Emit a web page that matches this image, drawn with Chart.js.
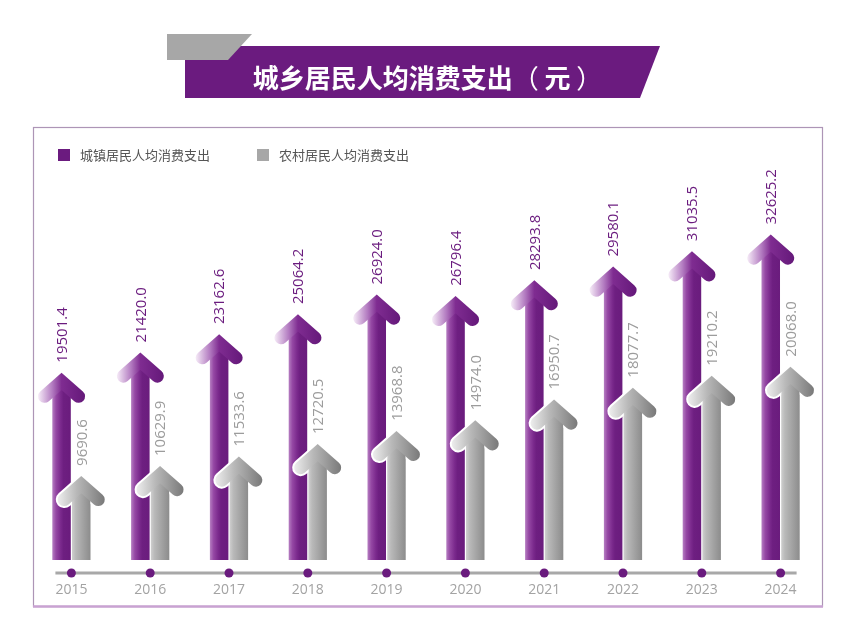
<!DOCTYPE html>
<html>
<head>
<meta charset="utf-8">
<script src="https://cdn.jsdelivr.net/npm/chart.js@4.4.1/dist/chart.umd.min.js"></script>
<style>
  body { margin: 0; background: #fff; }
  #wrap { position: relative; width: 850px; height: 640px; overflow: hidden; font-family: "Noto Sans CJK SC", sans-serif; }
  #chart { position: absolute; left: 0; top: 0; }
  .band-purple { position: absolute; left: 185px; top: 46px; width: 475px; height: 52px; background: #6b1b7f;
    clip-path: polygon(0 0, 100% 0, 455px 100%, 0 100%); }
  .band-gray { position: absolute; left: 167px; top: 34px; width: 85px; height: 26px; background: #a7a7a7;
    clip-path: polygon(0 0, 100% 0, 61px 100%, 0 100%); }
  .title { position: absolute; left: 190px; top: 51px; width: 475px; height: 52px; line-height: 52px; text-align: center;
    color: #fff; font-weight: bold; font-size: 26px; white-space: pre; }
  .title .p { font-weight: normal; }
  .legend { position: absolute; top: 146px; height: 18px; line-height: 18px; font-size: 13px; color: #555; }
  .legend i { position: absolute; left: 0; top: 3px; width: 12px; height: 12px; }
  .legend span { position: absolute; left: 22px; top: 0; white-space: nowrap; }
</style>
</head>
<body>
<div id="wrap">
  <canvas id="chart" width="850" height="640"></canvas>
  <div class="band-purple"></div>
  <div class="band-gray"></div>
  <div class="title">城乡居民人均消费支出<span class="p">（ </span>元<span class="p"> ）</span></div>
  <div class="legend" style="left:58px"><i style="background:#6b1b7f"></i><span>城镇居民人均消费支出</span></div>
  <div class="legend" style="left:257px"><i style="background:#a7a7a7"></i><span>农村居民人均消费支出</span></div>
</div>
<script>
// 城乡居民人均消费支出 2015-2024
const years = ['2015', '2016', '2017', '2018', '2019', '2020', '2021', '2022', '2023', '2024'];
const urbanSpend = [19501.4, 21420.0, 23162.6, 25064.2, 26924.0, 26796.4, 28293.8, 29580.1, 31035.5, 32625.2];
const ruralSpend = [9690.6, 10629.9, 11533.6, 12720.5, 13968.8, 14974.0, 16950.7, 18077.7, 19210.2, 20068.0];

const CAT_PCT = 0.5;
const BAR_PCT = 0.94;

const purpleShaft = [[0, '#b67fc2'], [0.2, '#9548a4'], [0.45, '#7b2a8d'], [0.6, '#6e1f81'], [1, '#6a1c7d']];
const grayShaft = [[0, '#cfcfcf'], [0.2, '#b9b9b9'], [0.6, '#a2a2a2'], [1, '#8c8c8c']];
const purpleHead = [[0, '#f4e8f6'], [0.3, '#b27ac0'], [0.5, '#7f2c91'], [1, '#65197a']];
const grayHead = [[0, '#ececec'], [0.4, '#b8b8b8'], [0.7, '#9a9a9a'], [1, '#7a7a7a']];

function hGrad(ctx, x0, x1, stops) {
  const g = ctx.createLinearGradient(x0, 0, x1, 0);
  stops.forEach(s => g.addColorStop(s[0], s[1]));
  return g;
}

// gradient fill of a shaft, position taken from the x scale
function shaftFill(context, stops, fallback) {
  const chart = context.chart;
  if (!chart.chartArea || context.dataIndex === undefined) return fallback;
  const xs = chart.scales.x;
  const center = xs.getPixelForValue(context.dataIndex);
  const slot = xs.width / years.length * CAT_PCT / 2;
  const cx = center + (context.datasetIndex === 0 ? -slot / 2 : slot / 2);
  const w = slot * BAR_PCT;
  return hGrad(chart.ctx, cx - w / 2, cx + w / 2, stops);
}

function chevron(ctx, cx, tip, lw, style) {
  const v = tip + 8.7;
  ctx.beginPath();
  ctx.moveTo(cx - 17, v + 15);
  ctx.lineTo(cx, v);
  ctx.lineTo(cx + 17, v + 15);
  ctx.lineWidth = lw;
  ctx.lineCap = 'round';
  ctx.lineJoin = 'miter';
  ctx.strokeStyle = style;
  ctx.stroke();
}

// frame + background
const framePlugin = {
  id: 'frame',
  beforeDraw(chart) {
    const ctx = chart.ctx;
    ctx.save();
    ctx.fillStyle = '#fff';
    ctx.fillRect(0, 0, chart.width, chart.height);
    ctx.strokeStyle = '#ad95b6';
    ctx.lineWidth = 1.2;
    ctx.strokeRect(33.5, 127.5, 789, 479);
    ctx.strokeStyle = '#c9a2d2';
    ctx.lineWidth = 2.5;
    ctx.beginPath();
    ctx.moveTo(33, 606.5);
    ctx.lineTo(823, 606.5);
    ctx.stroke();
    ctx.restore();
  }
};

// cut the square top of each shaft so the arrow head covers it
const shaftClip = {
  id: 'shaftClip',
  beforeDatasetDraw(chart, args) {
    const ctx = chart.ctx;
    ctx.save();
    ctx.beginPath();
    ctx.rect(0, 0, chart.width, chart.height);
    args.meta.data.forEach(bar => {
      const hw = bar.width / 2 + 1;
      const t = bar.y;
      ctx.moveTo(bar.x - hw, t - 2);
      ctx.lineTo(bar.x + hw, t - 2);
      ctx.lineTo(bar.x + hw, t + 1.5 + 0.88 * hw);
      ctx.lineTo(bar.x, t + 1.5);
      ctx.lineTo(bar.x - hw, t + 1.5 + 0.88 * hw);
      ctx.closePath();
    });
    ctx.clip('evenodd');
  },
  afterDatasetDraw(chart) {
    chart.ctx.restore();
  }
};

const arrowPlugin = {
  id: 'arrows',
  afterDatasetsDraw(chart) {
    const ctx = chart.ctx;
    [0, 1].forEach(di => {
      const meta = chart.getDatasetMeta(di);
      const values = chart.data.datasets[di].data;
      meta.data.forEach((bar, i) => {
        const cx = bar.x, tip = bar.y;
        ctx.save();
        if (di === 1) {
          // white edge, kept off the grey shaft itself
          ctx.save();
          ctx.beginPath();
          ctx.rect(0, 0, chart.width, chart.height);
          ctx.rect(cx - bar.width / 2, tip + 10, bar.width, bar.base - tip);
          ctx.clip('evenodd');
          chevron(ctx, cx, tip, 17, '#fff');
          ctx.restore();
        }
        chevron(ctx, cx, tip, 13, hGrad(ctx, cx - 23, cx + 23, di === 0 ? purpleHead : grayHead));
        // value label
        ctx.translate(cx + 1, tip - 10);
        ctx.rotate(-Math.PI / 2);
        ctx.font = '15px "Open Sans", sans-serif';
        ctx.textAlign = 'left';
        ctx.textBaseline = 'middle';
        ctx.fillStyle = di === 0 ? '#6a1b7e' : '#9c9c9c';
        ctx.fillText(values[i].toFixed(1), 0, 0);
        ctx.restore();
      });
    });
  }
};

// timeline with dots and years
const timelinePlugin = {
  id: 'timeline',
  afterDraw(chart) {
    const ctx = chart.ctx;
    const xs = chart.scales.x;
    const first = xs.getPixelForValue(0);
    const last = xs.getPixelForValue(years.length - 1);
    const y = 573;
    ctx.save();
    ctx.strokeStyle = '#a8a8a8';
    ctx.lineWidth = 3;
    ctx.beginPath();
    ctx.moveTo(first - 16, y);
    ctx.lineTo(last + 16, y);
    ctx.stroke();
    ctx.font = '14px "Open Sans", sans-serif';
    ctx.textAlign = 'center';
    ctx.textBaseline = 'middle';
    years.forEach((yr, i) => {
      const x = xs.getPixelForValue(i);
      ctx.fillStyle = '#6a1b7e';
      ctx.beginPath();
      ctx.arc(x, y, 4.5, 0, Math.PI * 2);
      ctx.fill();
      ctx.fillStyle = '#a3a3a3';
      ctx.fillText(yr, x, 590);
    });
    ctx.restore();
  }
};

new Chart(document.getElementById('chart'), {
  type: 'bar',
  data: {
    labels: years,
    datasets: [
      {
        label: '城镇居民人均消费支出',
        data: urbanSpend,
        backgroundColor: ctx => shaftFill(ctx, purpleShaft, '#6e1f81'),
        categoryPercentage: CAT_PCT,
        barPercentage: BAR_PCT
      },
      {
        label: '农村居民人均消费支出',
        data: ruralSpend,
        backgroundColor: ctx => shaftFill(ctx, grayShaft, '#a2a2a2'),
        categoryPercentage: CAT_PCT,
        barPercentage: BAR_PCT
      }
    ]
  },
  options: {
    responsive: false,
    animation: false,
    layout: { padding: { left: 32, right: 30, top: 199, bottom: 80 } },
    scales: {
      x: { display: false, offset: true },
      y: { display: false, min: 1700, max: 36000 }
    },
    plugins: {
      legend: { display: false },
      tooltip: { enabled: false }
    }
  },
  plugins: [framePlugin, shaftClip, arrowPlugin, timelinePlugin]
});
</script>
</body>
</html>
